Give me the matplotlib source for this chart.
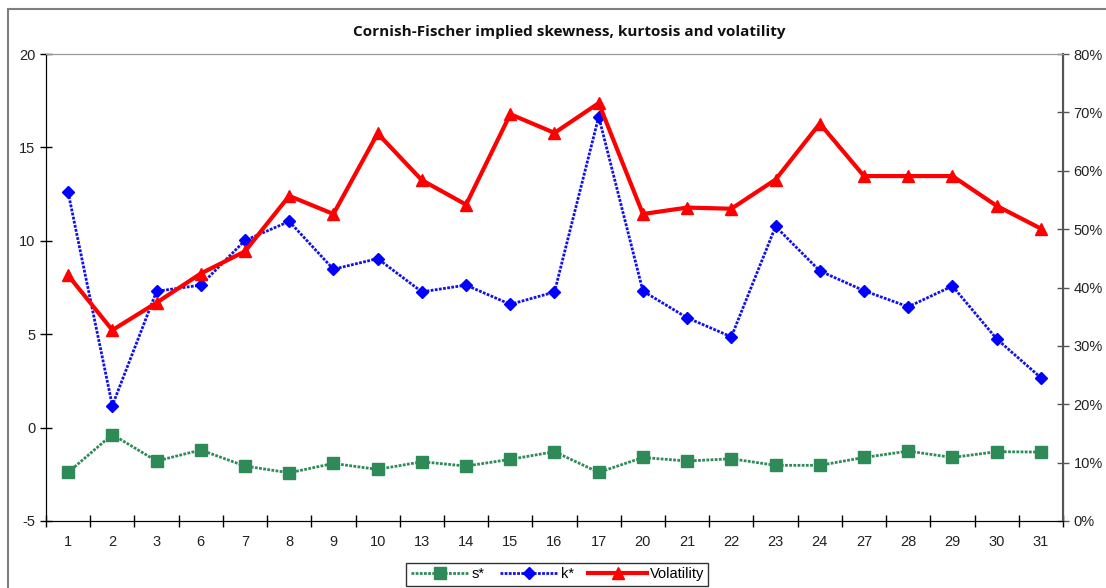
import matplotlib.pyplot as plt
from matplotlib.patches import Rectangle
from matplotlib.ticker import PercentFormatter
import numpy as np

plt.rcParams["font.family"] = ["Liberation Sans", "DejaVu Sans"]
plt.rcParams["axes.unicode_minus"] = False

days = ["1", "2", "3", "6", "7", "8", "9", "10", "13", "14", "15", "16",
        "17", "20", "21", "22", "23", "24", "27", "28", "29", "30", "31"]
skew = [-2.4, -0.37, -1.79, -1.2, -2.06, -2.42, -1.92, -2.24, -1.83, -2.06, -1.7, -1.29,
        -2.4, -1.6, -1.79, -1.67, -2.02, -2.02, -1.6, -1.26, -1.6, -1.29, -1.31]
kurt = [12.6, 1.18, 7.3, 7.63, 10.02, 11.04, 8.48, 9.05, 7.27, 7.63, 6.6, 7.26,
        16.65, 7.31, 5.88, 4.86, 10.77, 8.39, 7.33, 6.47, 7.58, 4.75, 2.67]
vol = [0.421, 0.327, 0.374, 0.424, 0.462, 0.557, 0.526, 0.664, 0.584, 0.542, 0.697, 0.665,
       0.716, 0.526, 0.537, 0.535, 0.585, 0.681, 0.591, 0.591, 0.591, 0.540, 0.501]

x = np.arange(len(days))

fig = plt.figure(figsize=(11.06, 5.88), dpi=100)
ax = fig.add_axes([0.0416, 0.114, 0.9195, 0.794])
ax2 = ax.twinx()

# outer chart frame
fig.patches.append(Rectangle((8 / 1106, -0.1), 1.2, 1 - 9 / 588 + 0.1, transform=fig.transFigure,
                             fill=False, edgecolor="#7f7f7f", linewidth=1.5, zorder=0))

l1, = ax.plot(x, skew, color="#2e8b57", linestyle=(0, (1, 0.5)), linewidth=2,
              marker="s", markersize=8, label="s*", zorder=3)
l2, = ax.plot(x, kurt, color="#1010ee", linestyle=(0, (1, 0.5)), linewidth=2,
              marker="D", markersize=6.5, label="k*", zorder=3)
l3, = ax2.plot(x, vol, color="#ff0000", linewidth=3, marker="^", markersize=9,
               label="Volatility", zorder=3)
l1.set_markeredgecolor("#2e8b57")
l2.set_markerfacecolor("#0000ff")
l2.set_markeredgecolor("#0000ff")

ax.set_xlim(-0.5, len(days) - 0.5)
ax.set_ylim(-5, 20)
ax.set_yticks(np.arange(-5, 21, 5))
ax2.set_ylim(0, 0.8)
ax2.set_yticks(np.arange(0, 0.81, 0.1))
ax2.yaxis.set_major_formatter(PercentFormatter(1.0, decimals=0))

# category labels sit between the tick marks
ax.set_xticks(np.arange(-0.5, len(days), 1))
ax.set_xticklabels([])
ax.set_xticks(x, minor=True)
ax.set_xticklabels(days, minor=True)
ax.tick_params(axis="x", which="minor", length=0, pad=10, labelsize=10.5, labelcolor="#222222")
ax.tick_params(axis="x", which="major", direction="inout", length=8, width=1)
ax.tick_params(axis="y", direction="inout", length=8, width=1, labelsize=10.5, labelcolor="#222222")
ax2.tick_params(axis="y", direction="inout", length=8, width=1, labelsize=10.5,
                labelcolor="#222222", color="#555555")

for a in (ax, ax2):
    a.spines["top"].set_color("#999999")
ax.spines["left"].set_color("black")
ax.spines["bottom"].set_color("black")
ax2.spines["right"].set_color("#555555")
ax2.spines["right"].set_linewidth(1.5)

fig.text(0.515, 0.945, "Cornish-Fischer implied skewness, kurtosis and volatility",
         ha="center", va="center", fontsize=11, fontweight="bold",
         family=["Open Sans", "DejaVu Sans"], color="#111111")

leg = fig.legend(handles=[l1, l2, l3], loc="upper center", bbox_to_anchor=(0.504, 0.055),
                 ncol=3, frameon=True, fancybox=False, fontsize=10.5, handlelength=4,
                 columnspacing=1.0, handletextpad=0.2, borderpad=0.3)
leg.get_frame().set_edgecolor("black")
leg.get_frame().set_linewidth(1)

fig.savefig("out.png", dpi=100)
